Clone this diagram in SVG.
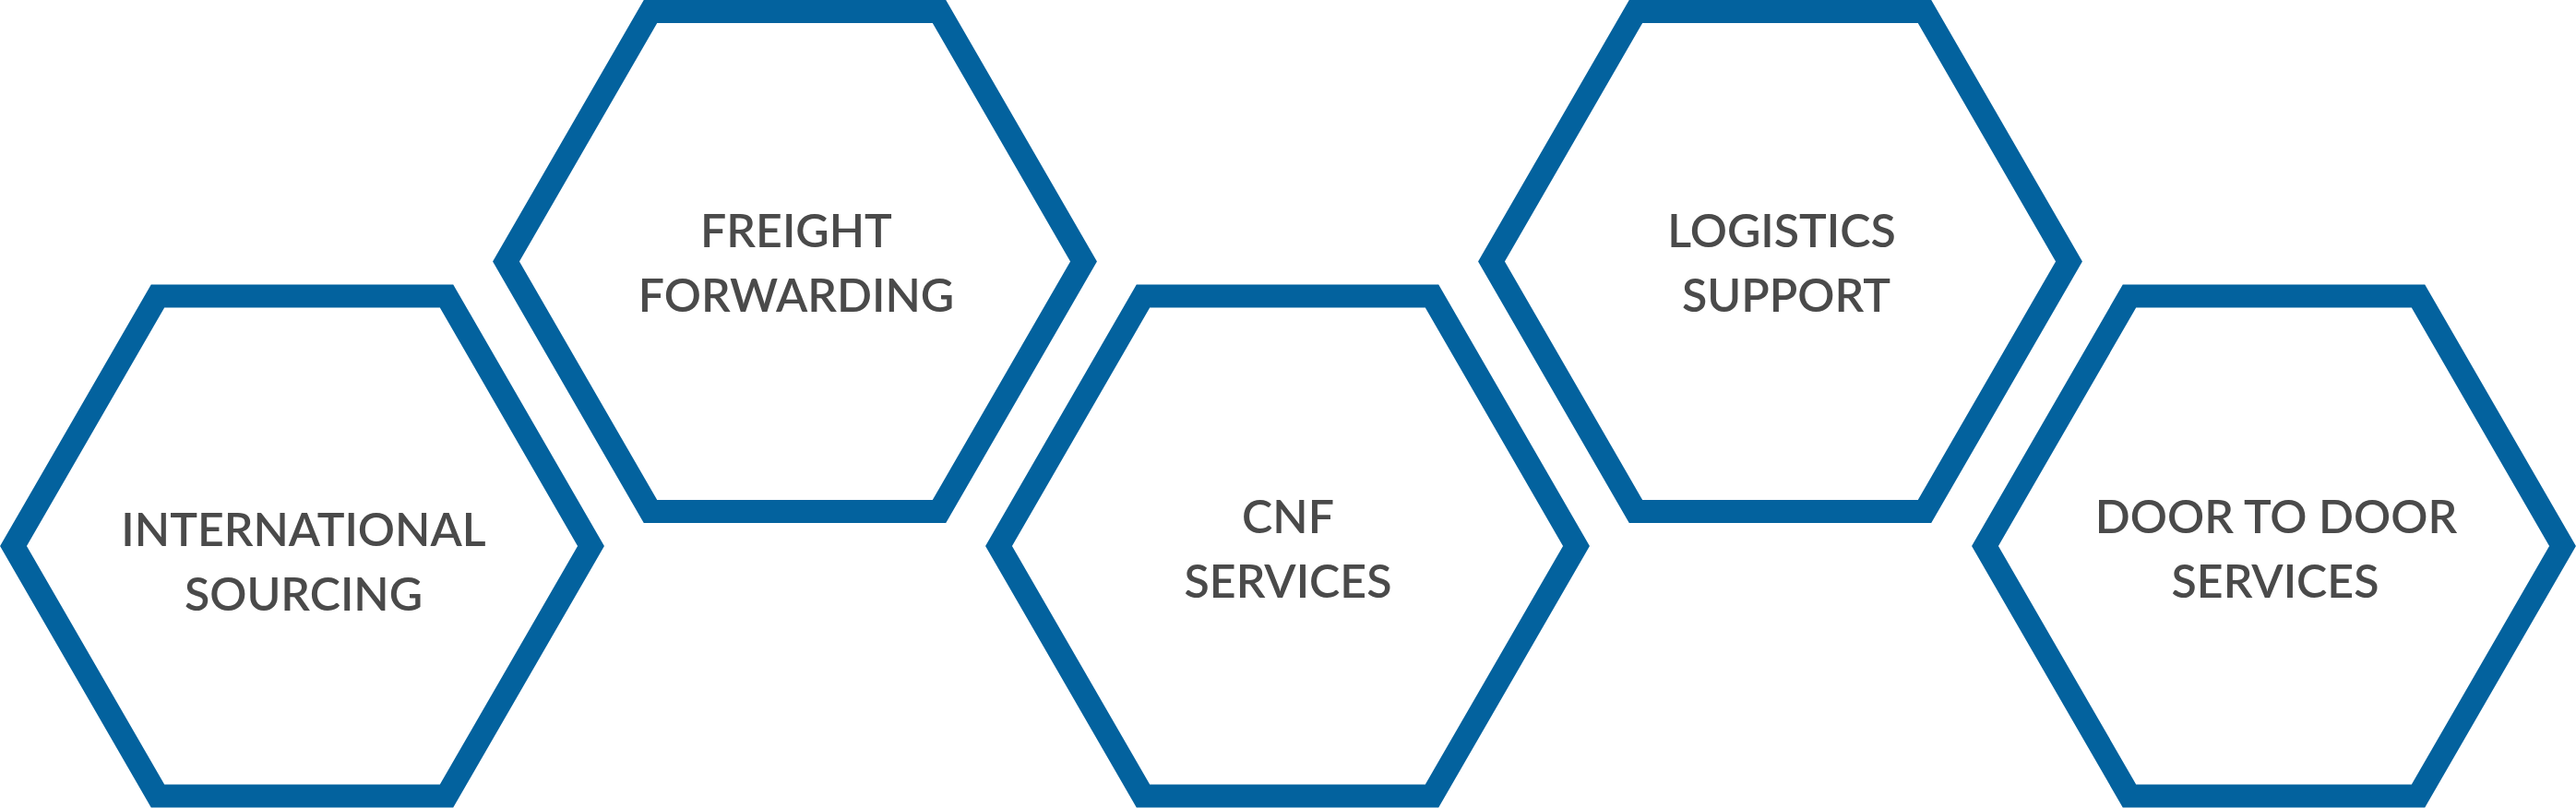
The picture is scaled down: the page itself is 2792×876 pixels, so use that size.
<svg xmlns="http://www.w3.org/2000/svg" width="2792" height="876" viewBox="0 0 2792 876">
<style>
.hex{fill:#ffffff;stroke:#03629e;stroke-width:25;stroke-linejoin:miter}
.lbl{font-family:Lato,"Open Sans","Liberation Sans",sans-serif;font-size:50px;font-weight:600;fill:#4a4a4a;text-anchor:middle}
</style>
<rect width="2792" height="876" fill="#ffffff"/>
<g id="node-international-sourcing">
<polygon class="hex" points="14.5,592 171,321 484,321 640.5,592 484,863 171,863"/>
<text class="lbl" x="329" y="592">INTERNATIONAL</text>
<text class="lbl" x="329" y="662">SOURCING</text>
</g>
<g id="node-freight-forwarding">
<polygon class="hex" points="548.5,283.5 705,12.5 1018,12.5 1174.5,283.5 1018,554.5 705,554.5"/>
<text class="lbl" x="863" y="268">FREIGHT</text>
<text class="lbl" x="863" y="338">FORWARDING</text>
</g>
<g id="node-cnf-services">
<polygon class="hex" points="1082.5,592 1239,321 1552,321 1708.5,592 1552,863 1239,863"/>
<text class="lbl" x="1396" y="578">CNF</text>
<text class="lbl" x="1396" y="648">SERVICES</text>
</g>
<g id="node-logistics-support">
<polygon class="hex" points="1616.5,283.5 1773,12.5 2086,12.5 2242.5,283.5 2086,554.5 1773,554.5"/>
<text class="lbl" x="1931" y="268">LOGISTICS</text>
<text class="lbl" x="1936" y="338">SUPPORT</text>
</g>
<g id="node-door-to-door-services">
<polygon class="hex" points="2151.5,592 2308,321 2621,321 2777.5,592 2621,863 2308,863"/>
<text class="lbl" x="2467" y="578">DOOR TO DOOR</text>
<text class="lbl" x="2466" y="648">SERVICES</text>
</g>
<g id="connectors"></g>
</svg>
